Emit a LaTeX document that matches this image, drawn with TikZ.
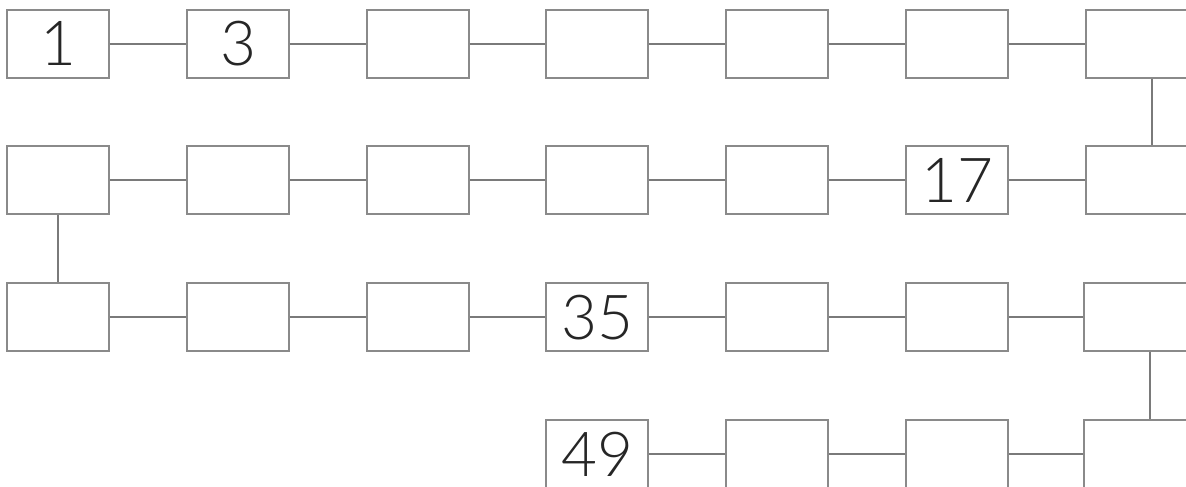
\documentclass[tikz,border=0pt]{standalone}
\usepackage{fontspec}
\newfontfamily\digitfont{Lato}[UprightFont=* Light]
\begin{document}
\begin{tikzpicture}[x=1pt,y=-1pt,
  cell/.style={draw=boxgray, line width=1.6pt, fill=white, minimum width=102pt, minimum height=68pt, inner sep=0pt,
    text height=44pt, text depth=0pt,
    font=\digitfont\fontsize{62}{62}\selectfont, text=black!85},
  widecell/.style={cell, minimum width=132pt},
  conn/.style={draw=linegray, line width=2.4pt}]
\definecolor{boxgray}{HTML}{8A8A8A}
\definecolor{linegray}{HTML}{7A7A7A}
\useasboundingbox (0,0) rectangle (1186,487);
\clip (0,0) rectangle (1186,487);
\fill[white] (0,0) rectangle (1186,487);
% row 1
\node[cell] (a1) at (58,44) {1};
\node[cell] (a2) at (238,44) {3};
\node[cell] (a3) at (418,44) {};
\node[cell] (a4) at (597,44) {};
\node[cell] (a5) at (777,44) {};
\node[cell] (a6) at (957,44) {};
\node[widecell] (a7) at (1152,44) {};
% row 2
\node[cell] (b1) at (58,180) {};
\node[cell] (b2) at (238,180) {};
\node[cell] (b3) at (418,180) {};
\node[cell] (b4) at (597,180) {};
\node[cell] (b5) at (777,180) {};
\node[cell] (b6) at (957,180) {17};
\node[widecell] (b7) at (1152,180) {};
% row 3
\node[cell] (c1) at (58,317) {};
\node[cell] (c2) at (238,317) {};
\node[cell] (c3) at (418,317) {};
\node[cell] (c4) at (597,317) {35};
\node[cell] (c5) at (777,317) {};
\node[cell] (c6) at (957,317) {};
\node[widecell] (c7) at (1150,317) {};
% row 4
\node[cell] (d4) at (597,454) {49};
\node[cell] (d5) at (777,454) {};
\node[cell] (d6) at (957,454) {};
\node[widecell] (d7) at (1150,454) {};
% connectors
\draw[conn] (a1) -- (a2);
\draw[conn] (a2) -- (a3);
\draw[conn] (a3) -- (a4);
\draw[conn] (a4) -- (a5);
\draw[conn] (a5) -- (a6);
\draw[conn] (a6) -- (a7);
\draw[conn] (a7) -- (b7);
\draw[conn] (b7) -- (b6);
\draw[conn] (b6) -- (b5);
\draw[conn] (b5) -- (b4);
\draw[conn] (b4) -- (b3);
\draw[conn] (b3) -- (b2);
\draw[conn] (b2) -- (b1);
\draw[conn] (b1) -- (c1);
\draw[conn] (c1) -- (c2);
\draw[conn] (c2) -- (c3);
\draw[conn] (c3) -- (c4);
\draw[conn] (c4) -- (c5);
\draw[conn] (c5) -- (c6);
\draw[conn] (c6) -- (c7);
\draw[conn] (c7) -- (d7);
\draw[conn] (d7) -- (d6);
\draw[conn] (d6) -- (d5);
\draw[conn] (d5) -- (d4);
\end{tikzpicture}
\end{document}
